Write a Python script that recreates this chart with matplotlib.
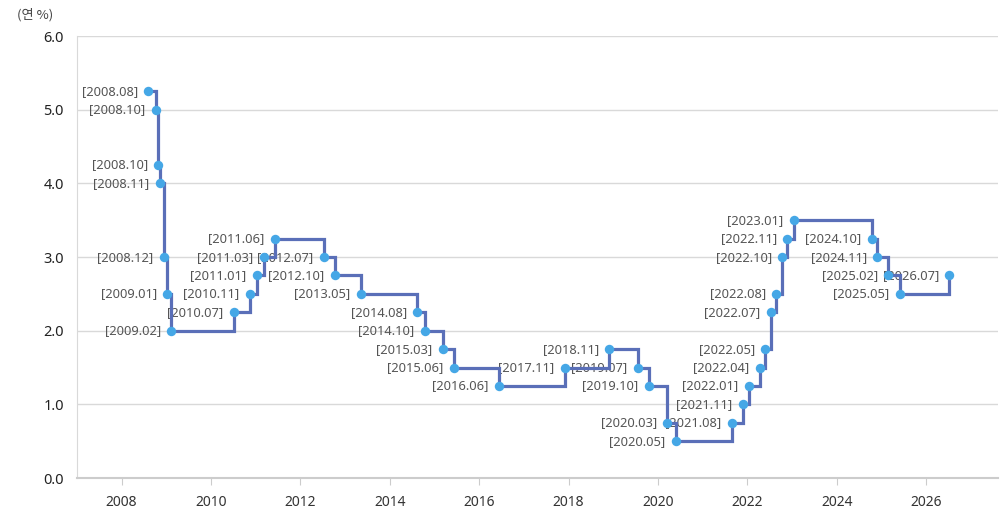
import matplotlib
matplotlib.use("Agg")
import matplotlib.pyplot as plt
import matplotlib.dates as mdates
import pandas as pd

# Base rate decisions (date, rate %)
dates = [
    "2008-08-07", "2008-10-09", "2008-10-27", "2008-11-07", "2008-12-11",
    "2009-01-09", "2009-02-12", "2010-07-09", "2010-11-16", "2011-01-13",
    "2011-03-10", "2011-06-10", "2012-07-12", "2012-10-11", "2013-05-09",
    "2014-08-14", "2014-10-15", "2015-03-12", "2015-06-11", "2016-06-09",
    "2017-11-30", "2018-11-30", "2019-07-18", "2019-10-16", "2020-03-17",
    "2020-05-28", "2021-08-26", "2021-11-25", "2022-01-14", "2022-04-14",
    "2022-05-26", "2022-07-13", "2022-08-25", "2022-10-12", "2022-11-24",
    "2023-01-13", "2024-10-11", "2024-11-28", "2025-02-25", "2025-05-29",
    "2026-07-09",
]
rates = [
    5.25, 5.00, 4.25, 4.00, 3.00,
    2.50, 2.00, 2.25, 2.50, 2.75,
    3.00, 3.25, 3.00, 2.75, 2.50,
    2.25, 2.00, 1.75, 1.50, 1.25,
    1.50, 1.75, 1.50, 1.25, 0.75,
    0.50, 0.75, 1.00, 1.25, 1.50,
    1.75, 2.25, 2.50, 3.00, 3.25,
    3.50, 3.25, 3.00, 2.75, 2.50,
    2.75,
]
labels = [
    "2008.08", "2008.10", "2008.10", "2008.11", "2008.12",
    "2009.01", "2009.02", "2010.07", "2010.11", "2011.01",
    "2011.03", "2011.06", "2012.07", "2012.10", "2013.05",
    "2014.08", "2014.10", "2015.03", "2015.06", "2016.06",
    "2017.11", "2018.11", "2019.07", "2019.10", "2020.03",
    "2020.05", "2021.08", "2021.11", "2022.01", "2022.04",
    "2022.05", "2022.07", "2022.08", "2022.10", "2022.11",
    "2023.01", "2024.10", "2024.11", "2025.02", "2025.05",
    "2026.07",
]
y_ticks = [0.0, 1.0, 2.0, 3.0, 4.0, 5.0, 6.0]

LINE_COLOR = "#5a6fb8"
POINT_COLOR = "#45a7e6"
GRID_COLOR = "#d9d9d9"

plt.rcParams["font.family"] = ["Noto Sans", "DejaVu Sans"]

x = pd.to_datetime(dates)

fig = plt.figure(figsize=(10, 5.23), dpi=100)
ax = fig.add_axes([0.0765, 0.086, 0.9215, 0.845])

ax.plot(x, rates, drawstyle="steps-post", color=LINE_COLOR, lw=2.3,
        zorder=3, solid_joinstyle="miter")
ax.plot(x, rates, "o", color=POINT_COLOR, ms=6.8, mec=POINT_COLOR, mew=0,
        zorder=4)

for xi, yi, lab in zip(x, rates, labels):
    ax.annotate(f"[{lab}]", (xi, yi), xytext=(-7.5, 0),
                textcoords="offset points", ha="right", va="center",
                fontsize=9.3, color="#555555", zorder=2)

ax.set_xlim(pd.Timestamp("2006-12-29"), pd.Timestamp("2027-08-10"))
ax.set_ylim(0, 6)
ax.set_yticks(y_ticks)
ax.set_yticklabels([f"{v:.1f}" for v in y_ticks])
ax.xaxis.set_major_locator(mdates.YearLocator(2))
ax.xaxis.set_major_formatter(mdates.DateFormatter("%Y"))

ax.grid(axis="y", color=GRID_COLOR, lw=1)
ax.set_axisbelow(True)
for side in ["top", "right"]:
    ax.spines[side].set_visible(False)
ax.spines["left"].set_color(GRID_COLOR)
ax.spines["bottom"].set_color("#cccccc")
ax.spines["bottom"].set_linewidth(1.5)

ax.tick_params(axis="y", length=0, pad=9, labelsize=10.5, labelcolor="#222222")
ax.tick_params(axis="x", length=5, color="#cccccc", pad=7, labelsize=10,
               labelcolor="#333333")

fig.text(0.017, 0.972, "(연 %)", ha="left", va="center", fontsize=9.5,
         color="#444444", family=["Noto Sans CJK KR", "DejaVu Sans"])

fig.savefig("out.png", dpi=100)
